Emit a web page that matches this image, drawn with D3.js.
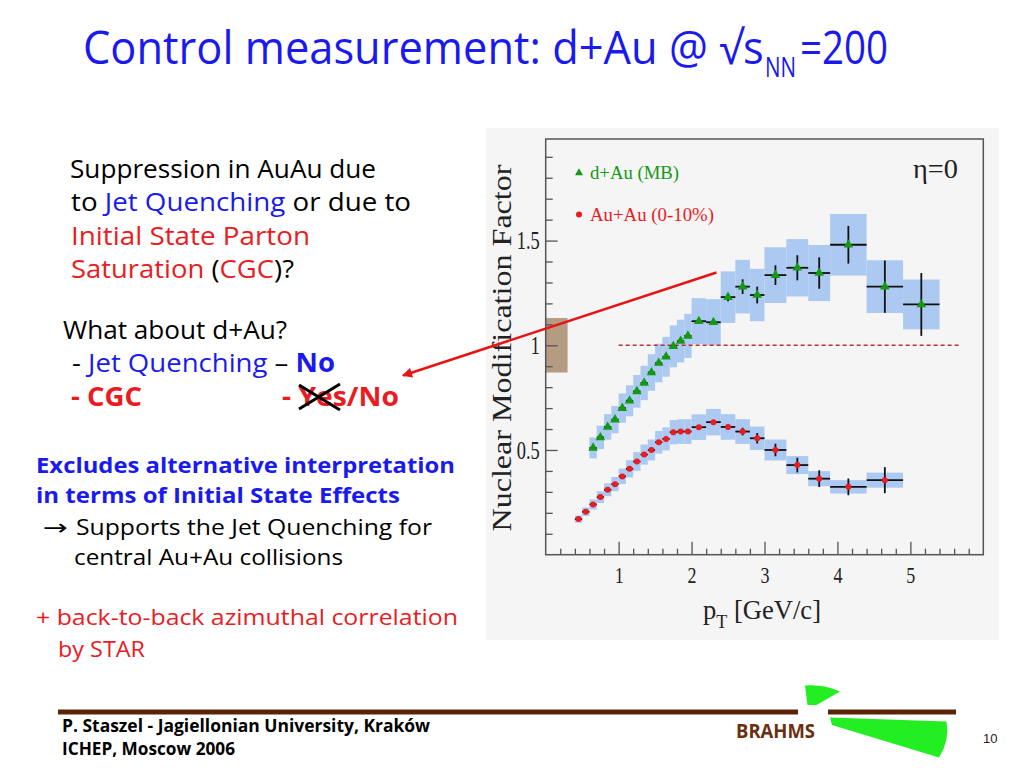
<!DOCTYPE html>
<html>
<head>
<meta charset="utf-8">
<script src="https://cdn.jsdelivr.net/npm/d3@7"></script>
<style>
body { margin: 0; background: #fff; }
svg { display: block; }
</style>
</head>
<body>
<script>
// d+Au (MB), eta = 0
const dauPt = [0.65, 0.75, 0.85, 0.95, 1.05, 1.15, 1.25, 1.35, 1.45, 1.55, 1.65, 1.75, 1.85, 1.95,
    2.1, 2.3, 2.5, 2.7, 2.9, 3.15, 3.45, 3.75, 4.15, 4.65, 5.15];
const dauRatio = [0.51, 0.56, 0.61, 0.645, 0.70, 0.735, 0.78, 0.82, 0.87, 0.915, 0.945, 0.995, 1.02, 1.045,
    1.115, 1.11, 1.23, 1.28, 1.24, 1.335, 1.37, 1.345, 1.48, 1.28, 1.195];
const dauStat = [0.005, 0.005, 0.005, 0.005, 0.005, 0.005, 0.005, 0.005, 0.005, 0.005, 0.005, 0.005, 0.005, 0.005,
    0.01, 0.01, 0.02, 0.035, 0.04, 0.047, 0.06, 0.075, 0.09, 0.125, 0.15];
const dauSyst = [0.05, 0.056, 0.061, 0.065, 0.07, 0.074, 0.078, 0.082, 0.087, 0.092, 0.095, 0.1, 0.102, 0.105,
    0.11, 0.11, 0.123, 0.128, 0.125, 0.133, 0.137, 0.134, 0.147, 0.126, 0.119];
const dauHalfBin = [0.05, 0.05, 0.05, 0.05, 0.05, 0.05, 0.05, 0.05, 0.05, 0.05, 0.05, 0.05, 0.05, 0.05,
    0.1, 0.1, 0.1, 0.1, 0.1, 0.15, 0.15, 0.15, 0.25, 0.25, 0.25];

// Au+Au (0-10%)
const auauPt = [0.45, 0.55, 0.65, 0.75, 0.85, 0.95, 1.05, 1.15, 1.25, 1.35, 1.45, 1.55, 1.65, 1.75, 1.85, 1.95,
    2.1, 2.3, 2.5, 2.7, 2.9, 3.15, 3.45, 3.75, 4.15, 4.65];
const auauRatio = [0.17, 0.205, 0.24, 0.275, 0.31, 0.337, 0.374, 0.41, 0.445, 0.478, 0.50, 0.537, 0.553, 0.585, 0.588, 0.588,
    0.609, 0.633, 0.61, 0.588, 0.556, 0.50, 0.428, 0.363, 0.324, 0.356];
const auauStat = [0.004, 0.004, 0.004, 0.004, 0.004, 0.004, 0.004, 0.004, 0.004, 0.004, 0.004, 0.004, 0.004, 0.004, 0.004, 0.004,
    0.008, 0.01, 0.012, 0.018, 0.025, 0.03, 0.035, 0.04, 0.04, 0.062];
const auauSyst = [0.017, 0.02, 0.024, 0.028, 0.031, 0.034, 0.037, 0.041, 0.045, 0.048, 0.05, 0.054, 0.055, 0.058, 0.059, 0.059,
    0.061, 0.063, 0.061, 0.059, 0.056, 0.05, 0.043, 0.036, 0.032, 0.036];
const auauHalfBin = [0.05, 0.05, 0.05, 0.05, 0.05, 0.05, 0.05, 0.05, 0.05, 0.05, 0.05, 0.05, 0.05, 0.05, 0.05, 0.05,
    0.1, 0.1, 0.1, 0.1, 0.1, 0.15, 0.15, 0.15, 0.25, 0.25];

// normalisation uncertainty box and unity line
const normBoxPt = [0, 0.3];
const normBoxRatio = [0.87, 1.13];
const unityPt = [1, 5.7];

const xMajor = [1, 2, 3, 4, 5];
const xMinor = [0.2, 0.4, 0.6, 0.8, 1.2, 1.4, 1.6, 1.8, 2.2, 2.4, 2.6, 2.8, 3.2, 3.4, 3.6, 3.8,
    4.2, 4.4, 4.6, 4.8, 5.2, 5.4, 5.6, 5.8];
const yMajor = [0.5, 1, 1.5];
const yMinor = [0.1, 0.2, 0.3, 0.4, 0.6, 0.7, 0.8, 0.9, 1.1, 1.2, 1.3, 1.4, 1.6, 1.7, 1.8, 1.9];

const GREEN = '#139a13';
const RED = '#ea1b22';
const BLUE = '#1a1aee';
const BOX = '#abc9f1';
const SANS = '"Open Sans", "Noto Sans", sans-serif';
const SERIF = '"Liberation Serif", "Times New Roman", serif';

const svg = d3.select('body').append('svg')
    .attr('width', 1024)
    .attr('height', 768);

// ---------------- title ----------------
// narrow the glyphs with a horizontal scale so the box matches the width
function scaledText(x0, y0, size, width, str, fill) {
    const t = svg.append('text')
        .attr('font-family', SANS)
        .attr('font-size', size)
        .attr('fill', fill)
        .text(str);
    const natural = t.node().getComputedTextLength();
    t.attr('transform', 'translate(' + x0 + ',' + y0 + ') scale(' + (width / natural) + ',1)');
    return t;
}
scaledText(83, 64, 46, 681, 'Control measurement: d+Au @ \u221As', BLUE);
scaledText(765, 77, 28, 31, 'NN', BLUE);
scaledText(800, 64, 46, 88, '=200', BLUE);

// ---------------- left text ----------------
function line(x, y, size, width, parts, weight) {
    const t = svg.append('text')
        .attr('x', x).attr('y', y)
        .attr('font-family', SANS)
        .attr('font-size', size)
        .attr('font-weight', weight || 'normal');
    if (width) t.attr('textLength', width).attr('lengthAdjust', 'spacingAndGlyphs');
    parts.forEach(p => {
        const s = t.append('tspan').attr('fill', p[1]).text(p[0]);
        if (p[2]) s.attr('font-weight', p[2]);
    });
    return t;
}

line(70, 178, 26, 306, [['Suppression in AuAu due', '#000']]);
line(71, 211, 26, 340, [['to ', '#000'], ['Jet Quenching', BLUE], [' or due to', '#000']]);
line(71, 245, 26, 239, [['Initial State Parton', RED]]);
line(71, 278, 26, 223, [['Saturation', RED], [' (', '#000'], ['CGC', RED], [')?', '#000']]);
line(63, 339, 26, 224, [['What about d+Au?', '#000']]);
line(72, 372, 26, 263, [['- ', '#000'], ['Jet Quenching', BLUE], [' \u2013 ', '#000'], ['No', BLUE, 'bold']]);
line(71, 406, 26, 71, [['- CGC', RED]], 'bold');
line(282, 406, 26, 117, [['- Yes/No', RED]], 'bold');

// cross over "Ye"
svg.append('path')
    .attr('d', 'M299,385 L340,410 M299,409 L340,384')
    .attr('stroke', '#000')
    .attr('stroke-width', 3)
    .attr('fill', 'none');

line(36, 473, 21, 419, [['Excludes alternative interpretation', BLUE]], 'bold');
line(36, 503, 21, 364, [['in terms of Initial State Effects', BLUE]], 'bold');
svg.append('text')
    .attr('x', 43).attr('y', 535)
    .attr('font-family', '"DejaVu Sans", sans-serif')
    .attr('font-size', 22)
    .attr('textLength', 25)
    .attr('lengthAdjust', 'spacingAndGlyphs')
    .text('\u2192');
line(76, 535, 21, 356, [['Supports the Jet Quenching for', '#000']]);
line(74, 565, 21, 269, [['central Au+Au collisions', '#000']]);
line(36, 625, 21, 422, [['+ back-to-back azimuthal correlation', RED]]);
line(58, 657, 21, 87, [['by STAR', RED]]);

// ---------------- plot panel ----------------
svg.append('rect')
    .attr('x', 486).attr('y', 128)
    .attr('width', 513).attr('height', 512)
    .attr('fill', '#f5f5f5');

const x = d3.scaleLinear().domain([0, 6]).range([545.7, 983.3]);
const y = d3.scaleLinear().domain([0, 1.985]).range([554.7, 139]);

const dau = dauPt.map((d, i) => ({
    pt: d, r: dauRatio[i], stat: dauStat[i], syst: dauSyst[i], hb: dauHalfBin[i]
}));
const auau = auauPt.map((d, i) => ({
    pt: d, r: auauRatio[i], stat: auauStat[i], syst: auauSyst[i], hb: auauHalfBin[i]
}));

const plot = svg.append('g');

// systematic boxes
[dau, auau].forEach(series => {
    plot.append('g').selectAll('rect')
        .data(series)
        .enter()
        .append('rect')
        .attr('x', d => x(d.pt - d.hb))
        .attr('width', d => x(d.pt + d.hb) - x(d.pt - d.hb))
        .attr('y', d => y(d.r + d.syst))
        .attr('height', d => y(d.r - d.syst) - y(d.r + d.syst))
        .attr('fill', BOX);
});

// normalisation box
plot.append('rect')
    .attr('x', x(normBoxPt[0]))
    .attr('width', x(normBoxPt[1]) - x(normBoxPt[0]))
    .attr('y', y(normBoxRatio[1]))
    .attr('height', y(normBoxRatio[0]) - y(normBoxRatio[1]))
    .attr('fill', '#b49b82');

// unity line
plot.append('line')
    .attr('x1', x(unityPt[0])).attr('x2', x(unityPt[1]))
    .attr('y1', y(1)).attr('y2', y(1))
    .attr('stroke', '#b83232')
    .attr('stroke-width', 1.5)
    .attr('stroke-dasharray', '4,3');

// error bars
[dau, auau].forEach(series => {
    const g = plot.append('g')
        .attr('stroke', '#111')
        .attr('stroke-width', 1.8);
    g.selectAll('.h')
        .data(series)
        .enter()
        .append('line')
        .attr('x1', d => x(d.pt - d.hb))
        .attr('x2', d => x(d.pt + d.hb))
        .attr('y1', d => y(d.r))
        .attr('y2', d => y(d.r));
    g.selectAll('.v')
        .data(series)
        .enter()
        .append('line')
        .attr('x1', d => x(d.pt))
        .attr('x2', d => x(d.pt))
        .attr('y1', d => y(d.r + d.stat))
        .attr('y2', d => y(d.r - d.stat));
});

// markers
const tri = d3.symbol().type(d3.symbolTriangle).size(40);
plot.append('g').selectAll('path')
    .data(dau)
    .enter()
    .append('path')
    .attr('d', tri)
    .attr('transform', d => 'translate(' + x(d.pt) + ',' + y(d.r) + ')')
    .attr('fill', GREEN);

plot.append('g').selectAll('circle')
    .data(auau)
    .enter()
    .append('circle')
    .attr('cx', d => x(d.pt))
    .attr('cy', d => y(d.r))
    .attr('r', 3)
    .attr('fill', RED);

// axes
const yAxisG = svg.append('g').attr('transform', 'translate(' + x(0) + ',0)');
yAxisG.append('g')
    .call(d3.axisLeft(y).tickValues(yMinor).tickSize(-7).tickFormat(''));
yAxisG.append('g')
    .call(d3.axisLeft(y).tickValues(yMajor).tickSize(-12).tickPadding(6).tickFormat(d3.format('')));

const xAxisG = svg.append('g').attr('transform', 'translate(0,' + y(0) + ')');
xAxisG.append('g')
    .call(d3.axisBottom(x).tickValues(xMinor).tickSize(-6).tickFormat(''));
xAxisG.append('g')
    .call(d3.axisBottom(x).tickValues(xMajor).tickSize(-13).tickPadding(11).tickFormat(d3.format('d')));

svg.selectAll('.domain').remove();
svg.selectAll('.tick line').attr('stroke', '#555').attr('stroke-width', 1.3);
yAxisG.selectAll('.tick text')
    .attr('font-family', SERIF).attr('font-size', 26).attr('fill', '#222')
    .attr('lengthAdjust', 'spacingAndGlyphs')
    .attr('textLength', d => (d === 1 ? 9 : 23));
xAxisG.selectAll('.tick text')
    .attr('font-family', SERIF).attr('font-size', 24).attr('fill', '#222')
    .attr('lengthAdjust', 'spacingAndGlyphs')
    .attr('textLength', 9);

// frame
svg.append('rect')
    .attr('x', x(0)).attr('y', y(1.985))
    .attr('width', x(6) - x(0))
    .attr('height', y(0) - y(1.985))
    .attr('fill', 'none')
    .attr('stroke', '#555')
    .attr('stroke-width', 1.5);

// axis titles
svg.append('text')
    .attr('transform', 'translate(511,348) rotate(-90)')
    .attr('text-anchor', 'middle')
    .attr('font-family', SERIF)
    .attr('font-size', 28)
    .attr('fill', '#222')
    .attr('textLength', 367)
    .attr('lengthAdjust', 'spacingAndGlyphs')
    .text('Nuclear Modification Factor');

const xt = svg.append('text')
    .attr('x', 703).attr('y', 619)
    .attr('font-family', SERIF)
    .attr('font-size', 28)
    .attr('fill', '#222')
    .attr('textLength', 118)
    .attr('lengthAdjust', 'spacingAndGlyphs');
xt.append('tspan').text('p');
xt.append('tspan').attr('dy', 9).attr('font-size', 19).text('T');
xt.append('tspan').attr('dy', -9).text(' [GeV/c]');

// legend
svg.append('path')
    .attr('d', d3.symbol().type(d3.symbolTriangle).size(28))
    .attr('transform', 'translate(579,173)')
    .attr('fill', GREEN);
svg.append('text')
    .attr('x', 590).attr('y', 179)
    .attr('font-family', SERIF).attr('font-size', 19)
    .attr('fill', GREEN)
    .attr('textLength', 89)
    .attr('lengthAdjust', 'spacingAndGlyphs')
    .text('d+Au (MB)');
svg.append('circle')
    .attr('cx', 579).attr('cy', 214.5).attr('r', 3)
    .attr('fill', RED);
svg.append('text')
    .attr('x', 590).attr('y', 221)
    .attr('font-family', SERIF).attr('font-size', 19)
    .attr('fill', RED)
    .attr('textLength', 124)
    .attr('lengthAdjust', 'spacingAndGlyphs')
    .text('Au+Au (0-10%)');
svg.append('text')
    .attr('x', 913).attr('y', 178)
    .attr('font-family', SERIF).attr('font-size', 28)
    .attr('fill', '#222')
    .attr('textLength', 45)
    .attr('lengthAdjust', 'spacingAndGlyphs')
    .text('\u03B7=0');

// red arrow from the plot to "Yes/No"
svg.append('defs').append('marker')
    .attr('id', 'head')
    .attr('viewBox', '0 0 10 10')
    .attr('refX', 9).attr('refY', 5)
    .attr('markerWidth', 5).attr('markerHeight', 4)
    .attr('orient', 'auto')
    .append('path')
    .attr('d', 'M0,0 L10,5 L0,10 Z')
    .attr('fill', '#e81313');
svg.append('line')
    .attr('x1', 716.5).attr('y1', 272.5)
    .attr('x2', 403).attr('y2', 375.5)
    .attr('stroke', '#e81313')
    .attr('stroke-width', 2.5)
    .attr('marker-end', 'url(#head)');

// ---------------- footer ----------------
const BROWN = '#5c2406';
svg.append('rect').attr('x', 58).attr('y', 709.5).attr('width', 740).attr('height', 5).attr('fill', BROWN);
svg.append('rect').attr('x', 828).attr('y', 709.5).attr('width', 128).attr('height', 5).attr('fill', BROWN);

svg.append('text')
    .attr('x', 62).attr('y', 732)
    .attr('font-family', SANS).attr('font-size', 18).attr('font-weight', 'bold')
    .attr('textLength', 368).attr('lengthAdjust', 'spacingAndGlyphs')
    .text('P. Staszel - Jagiellonian University, Krak\u00F3w');
svg.append('text')
    .attr('x', 62).attr('y', 755)
    .attr('font-family', SANS).attr('font-size', 18).attr('font-weight', 'bold')
    .attr('textLength', 173).attr('lengthAdjust', 'spacingAndGlyphs')
    .text('ICHEP, Moscow 2006');
svg.append('text')
    .attr('x', 736).attr('y', 738)
    .attr('font-family', SANS).attr('font-size', 19).attr('font-weight', 'bold')
    .attr('fill', '#6b2e10')
    .attr('textLength', 79).attr('lengthAdjust', 'spacingAndGlyphs')
    .text('BRAHMS');
svg.append('text')
    .attr('x', 983).attr('y', 743)
    .attr('font-family', '"Liberation Sans", Arial, sans-serif').attr('font-size', 13)
    .attr('fill', '#222')
    .text('10');

// BRAHMS logo wedges
svg.append('path')
    .attr('d', 'M805,685.5 Q823,684 840,691.5 L816.5,705 L807.5,705 Z')
    .attr('fill', '#22ee22');
svg.append('path')
    .attr('d', 'M830,717.5 L946.5,721.5 Q950,740 939,757.5 L832,725 Z')
    .attr('fill', '#22ee22');
</script>
</body>
</html>
